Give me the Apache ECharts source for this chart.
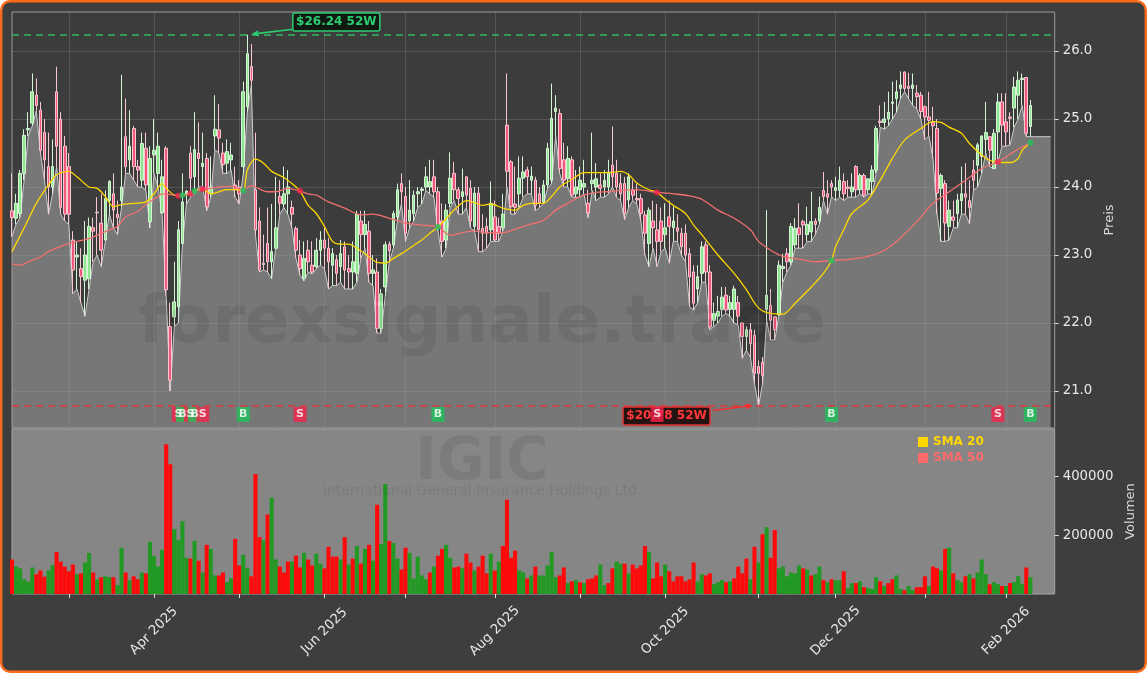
<!DOCTYPE html>
<html><head><meta charset="utf-8">
<script src="https://cdn.jsdelivr.net/npm/echarts@6/dist/echarts.min.js"></script>
<style>html,body{margin:0;padding:0;background:#ffffff;}#c{width:1147px;height:673px;}</style>
</head><body><div id="c"></div>
<script>
// ---------------- DATA ----------------
const holidays = ['2025-02-17','2025-04-18','2025-05-26','2025-06-19','2025-07-04','2025-09-01','2025-11-27','2025-12-25','2026-01-01','2026-01-19','2026-02-16'];
const startDate = '2025-02-10';
const slotCount = 258;

const opens = [23.65,23.54,23.61,24.2,24.84,24.94,25.35,25.13,24.8,24.3,
24.0,25.4,25.0,24.6,24.3,23.22,22.97,22.8,22.63,22.65,
23.4,23.63,23.47,23.22,23.8,23.9,23.6,23.8,24.74,24.4,
24.86,24.3,24.1,24.57,23.49,24.47,24.2,23.62,24.57,21.95,
22.09,22.24,23.17,23.9,24.5,24.15,24.5,24.3,24.42,23.9,
24.75,24.84,24.5,24.35,24.4,24.03,24.0,24.3,25.18,25.77,
23.96,23.5,22.88,23.17,22.9,23.1,23.86,23.75,23.9,23.7,
23.39,23.0,22.66,23.07,22.85,22.83,23.07,23.22,23.1,22.85,
22.93,22.83,23.12,22.8,22.75,22.73,23.5,23.3,23.35,22.73,
22.75,21.92,22.53,23.16,23.15,23.56,24.05,23.86,23.5,23.61,
23.9,23.95,24.0,24.0,24.15,23.93,23.5,23.22,23.76,24.2,
23.96,23.86,24.15,23.98,23.42,23.91,23.39,23.42,23.37,23.56,
23.42,23.4,24.91,24.37,23.75,23.9,24.13,24.25,24.1,24.1,
23.9,23.78,24.03,24.1,25.11,25.08,24.4,24.12,24.4,23.9,
23.96,24.0,23.76,24.05,24.0,24.03,24.0,24.0,24.32,24.2,
24.05,24.05,23.81,23.95,23.83,23.83,23.59,23.17,23.5,23.37,
23.5,23.3,23.56,23.4,23.4,23.32,23.32,23.02,22.75,22.5,
22.73,23.15,22.75,22.04,22.1,22.2,22.41,22.2,22.2,22.3,
22.0,21.8,21.9,21.82,21.36,21.42,22.2,22.26,22.09,22.12,
22.8,23.02,22.9,23.15,23.4,23.49,23.3,23.34,23.5,23.5,
23.95,23.9,24.05,23.95,23.95,24.08,24.0,23.93,24.3,23.96,
24.17,23.96,24.08,24.25,24.97,24.95,25.0,25.23,25.3,25.45,
25.69,25.48,25.45,25.38,25.35,25.18,25.03,24.95,24.86,23.98,
24.05,23.42,23.56,23.61,23.8,23.9,23.8,24.25,24.32,24.45,
24.7,24.74,24.27,24.81,25.25,24.96,25.03,25.16,25.35,25.58,
25.61,24.89];

const highs = [24.2,23.9,24.25,24.85,25.1,25.67,25.6,25.25,25.0,24.8,
24.7,25.77,25.1,24.75,24.5,23.35,23.2,23.1,23.5,23.55,
23.55,23.85,23.9,23.95,24.1,24.2,23.8,25.65,25.3,25.13,
24.9,24.4,24.8,24.8,24.6,25.0,24.8,24.4,24.6,22.3,
22.9,23.5,24.2,23.95,24.6,25.1,24.95,24.8,24.5,24.45,
25.35,25.22,24.65,24.7,24.65,24.3,24.1,25.55,26.24,26.1,
24.8,23.7,23.3,23.7,23.75,24.15,24.1,24.3,24.25,23.8,
23.42,23.22,23.2,23.22,23.2,23.25,23.35,23.4,23.25,23.1,
23.0,23.22,23.2,23.0,23.2,23.65,23.65,23.65,23.5,23.0,
22.95,22.5,23.2,23.2,23.65,24.05,24.2,24.0,24.1,23.95,
24.0,24.0,24.3,24.4,24.4,24.0,23.76,23.75,24.51,24.37,
24.0,24.27,24.15,24.1,24.0,24.0,23.6,23.55,24.08,23.8,
23.55,23.9,25.67,24.4,24.3,24.45,24.45,24.3,24.3,24.15,
24.0,24.1,24.65,25.52,25.35,25.15,24.65,24.6,24.45,24.25,
24.3,24.4,23.96,24.8,24.35,24.2,24.25,24.4,24.89,24.4,
24.2,24.15,24.2,24.1,24.05,23.9,23.65,23.7,23.8,23.75,
23.7,23.76,23.8,23.71,23.6,23.4,23.45,23.1,22.85,22.85,
23.2,23.2,22.85,22.3,22.4,22.53,22.53,22.4,22.55,22.4,
22.0,21.95,22.0,21.9,21.45,21.5,23.66,22.5,22.1,22.92,
23.02,23.1,23.47,23.54,23.76,23.52,23.71,23.93,23.54,23.86,
24.22,24.1,24.1,24.15,24.3,24.2,24.1,24.2,24.32,24.2,
24.2,24.12,24.32,24.9,25.2,25.25,25.4,25.55,25.57,25.7,
25.7,25.68,25.67,25.5,25.4,25.2,25.4,25.18,25.0,24.2,
24.1,23.8,23.8,23.9,24.3,24.35,24.1,24.4,24.65,24.76,
25.25,24.75,24.85,25.38,25.38,25.38,25.1,25.62,25.7,25.67,
25.61,25.28];

const lows = [23.27,23.45,23.55,24.1,24.75,24.9,25.12,24.5,24.1,23.6,
23.9,24.3,23.6,23.5,23.45,22.43,22.5,22.3,22.1,22.5,
22.9,23.0,22.83,23.2,23.6,23.4,23.3,23.7,24.2,24.2,
24.1,24.0,24.0,23.95,23.4,24.2,24.0,23.6,22.4,21.0,
21.95,22.0,23.15,23.75,23.85,23.9,24.0,24.0,23.65,23.85,
24.55,24.5,24.2,24.2,24.25,23.85,23.75,24.2,25.1,25.5,
23.3,22.75,22.78,22.75,22.65,23.1,23.6,23.7,23.6,23.4,
22.95,22.7,22.62,22.75,22.72,22.8,22.85,22.8,22.5,22.55,
22.55,22.6,22.5,22.5,22.5,22.6,22.95,23.1,22.6,22.55,
21.85,21.85,22.4,22.9,23.1,23.5,23.75,23.2,23.4,23.5,
23.7,23.75,23.95,23.9,23.85,23.35,22.97,23.1,23.7,23.8,
23.6,23.6,23.7,23.4,23.35,23.05,23.05,23.1,23.2,23.2,
23.2,23.35,24.0,23.6,23.6,23.7,23.85,23.9,23.9,23.65,
23.7,23.75,23.98,24.05,24.75,24.2,24.0,24.0,23.85,23.85,
23.85,23.9,23.55,23.95,23.8,23.85,23.85,23.9,24.0,23.85,
23.8,23.52,23.7,23.8,23.75,23.5,23.0,22.83,23.1,22.83,
23.05,23.1,22.88,23.2,23.2,23.0,22.9,22.24,22.19,22.3,
22.6,22.6,21.9,21.95,22.0,22.1,22.14,22.1,22.0,21.97,
21.48,21.6,21.5,21.11,20.78,21.11,22.04,21.75,21.75,22.1,
22.6,22.75,22.85,23.1,23.1,23.1,23.2,23.2,23.3,23.45,
23.8,23.6,23.86,23.8,23.85,23.8,23.85,23.85,23.85,23.9,
23.85,23.9,23.9,24.2,24.88,24.85,24.9,25.0,25.1,25.3,
25.4,25.3,25.2,25.15,25.0,24.7,24.75,24.42,23.61,23.2,
23.2,23.22,23.4,23.4,23.6,23.6,23.46,23.95,24.0,24.2,
24.5,24.3,24.27,24.37,24.6,24.6,24.62,24.88,25.0,25.2,
24.74,24.74];
// the grey low-price band continues flat past the last candle
const lowsTail = [24.74,24.74,24.74,24.74,24.74];

const closes = [23.55,23.76,24.2,24.76,24.86,25.4,25.2,24.54,24.4,24.0,
24.3,24.6,23.7,23.6,23.6,22.78,23.0,22.68,23.0,23.42,
23.35,23.62,23.07,23.83,24.08,23.66,23.55,24.0,24.3,24.6,
24.3,24.25,24.64,24.03,24.42,24.54,24.6,24.15,22.49,21.16,
22.31,23.37,23.78,23.94,24.13,24.55,24.42,24.35,23.71,24.0,
24.85,24.72,24.33,24.52,24.47,23.96,23.9,25.4,25.96,25.57,
23.37,22.78,22.86,22.9,23.05,23.4,23.76,23.9,24.0,23.6,
23.07,22.8,22.95,22.9,22.75,23.07,23.22,23.1,22.9,23.02,
22.73,23.02,22.78,22.75,22.9,23.6,23.3,23.45,22.73,22.78,
21.92,22.43,23.15,23.06,23.61,23.96,23.93,23.32,23.66,23.88,
23.93,23.97,24.15,24.08,23.93,23.42,23.2,23.66,24.13,23.96,
23.83,23.93,23.88,23.5,23.91,23.37,23.32,23.32,23.76,23.22,
23.32,23.6,24.23,23.71,23.7,24.13,24.22,24.15,24.16,23.73,
23.76,24.03,24.57,25.01,25.16,24.27,24.1,24.42,23.88,24.0,
24.1,24.05,23.62,24.1,24.12,23.98,24.1,24.22,24.15,24.0,
23.9,23.61,24.15,23.88,23.81,23.61,23.32,23.66,23.4,23.2,
23.2,23.4,23.42,23.5,23.35,23.12,23.0,22.68,22.29,22.68,
23.12,22.75,21.94,22.14,22.17,22.38,22.19,22.3,22.5,22.1,
21.8,21.9,21.7,21.26,21.26,21.23,22.41,22.04,21.9,22.85,
22.83,22.9,23.42,23.39,23.3,23.44,23.45,23.49,23.45,23.7,
23.86,23.85,24.0,23.99,24.1,23.9,23.98,24.0,23.96,24.17,
23.88,24.12,24.25,24.86,24.95,25.0,25.1,25.25,25.4,25.5,
25.45,25.45,25.5,25.33,25.11,25.03,24.98,24.9,23.91,24.17,
23.47,23.66,23.51,23.81,23.9,23.85,23.7,24.1,24.62,24.75,
24.8,24.54,24.79,25.25,24.91,24.81,25.01,25.47,25.57,25.6,
24.79,25.2];

const volumes = [117000,94000,87000,50000,42000,90000,67000,80000,59000,80000,
98000,143000,110000,93000,77000,100000,67000,70000,107000,139000,
73000,50000,57000,60000,57000,57000,30000,157000,73000,47000,
60000,50000,73000,70000,177000,130000,93000,150000,508000,440000,
220000,183000,247000,123000,120000,180000,113000,73000,167000,153000,
63000,63000,73000,40000,53000,187000,97000,133000,87000,60000,
407000,193000,183000,270000,327000,117000,93000,73000,110000,110000,
130000,90000,140000,117000,97000,137000,103000,87000,160000,127000,
127000,117000,193000,100000,120000,163000,103000,153000,167000,113000,
303000,170000,373000,180000,173000,120000,83000,157000,140000,53000,
127000,63000,50000,73000,93000,130000,153000,167000,123000,90000,
93000,87000,137000,107000,80000,93000,130000,70000,137000,80000,
110000,163000,320000,123000,147000,80000,73000,53000,63000,93000,
63000,63000,97000,143000,57000,63000,90000,37000,43000,47000,
40000,37000,50000,53000,63000,100000,30000,37000,87000,110000,
103000,103000,70000,100000,87000,97000,163000,143000,53000,107000,
60000,100000,77000,43000,60000,60000,43000,50000,107000,43000,
67000,63000,70000,33000,40000,47000,40000,43000,53000,93000,
70000,120000,50000,160000,107000,203000,227000,123000,217000,87000,
93000,60000,73000,70000,97000,87000,83000,63000,67000,93000,
47000,40000,50000,47000,47000,77000,20000,37000,37000,43000,
23000,20000,17000,57000,43000,27000,37000,50000,63000,17000,
13000,27000,13000,23000,23000,60000,27000,93000,87000,80000,
153000,157000,70000,47000,40000,60000,67000,53000,73000,117000,
67000,33000,40000,33000,27000,27000,37000,40000,60000,33000,
90000,57000];
// 1 = green (up) volume bar, 0 = red
const volUp = [0,1,1,1,1,1,0,0,0,1, 1,0,0,0,0,0,1,0,1,1, 0,1,0,1,1,0,1,1,0,1, 0,0,1,0,1,1,1,1,0,0,
1,1,1,1,0,1,0,1,0,1, 1,0,0,1,1,0,0,1,1,0, 0,0,1,0,1,1,0,0,0,1, 0,0,1,0,0,1,1,0,0,0,
0,1,0,1,0,1,0,1,0,1, 0,1,1,0,1,1,0,0,1,1, 1,1,1,0,1,0,0,1,1,0, 0,1,0,0,1,0,0,0,1,0,
1,0,0,0,0,1,1,0,1,0, 1,1,1,1,1,0,0,1,0,1, 0,1,0,0,0,1,1,0,0,1, 1,0,1,0,0,0,0,1,0,0,
0,1,0,0,0,0,0,0,0,1, 1,0,0,1,1,1,0,1,0,0, 0,0,1,0,1,0,1,0,0,1, 1,1,1,1,1,0,1,0,1,1,
0,1,0,1,1,0,1,1,0,1, 0,1,1,1,0,1,0,0,1,1, 0,1,1,0,0,0,1,0,0,1, 0,1,0,1,1,0,1,0,1,1,
1,0,1,1,0,1,0,1,1,1, 0,1];

// moving averages: [bar index, value]
const sma20 = [[0,23.05],[3,23.4],[6,23.76],[9,24.03],[11,24.18],[14,24.23],[16,24.15],[19,24.0],[21,23.98],[23,23.86],[25,23.71],[27,23.74],[30,23.76],[33,23.78],[35,23.9],[37,24.05],[38,23.98],[40,23.88],[41,23.87],[42,23.88],[44,23.9],[45,23.94],[47,23.97],[49,23.9],[51,23.93],[53,23.96],[55,23.96],[57,23.95],[58,24.25],[60,24.41],[62,24.35],[64,24.23],[67,24.14],[69,24.05],[71,23.94],[73,23.73],[75,23.61],[77,23.42],[79,23.2],[81,23.16],[83,23.16],[85,23.1],[87,23.02],[90,22.89],[92,22.88],[94,22.95],[96,23.02],[98,23.1],[101,23.22],[103,23.32],[105,23.41],[108,23.6],[110,23.72],[112,23.8],[114,23.77],[116,23.73],[118,23.75],[121,23.69],[124,23.66],[126,23.73],[128,23.76],[131,23.76],[133,23.86],[135,24.0],[138,24.11],[141,24.21],[144,24.21],[147,24.21],[150,24.23],[152,24.18],[154,24.06],[157,23.96],[159,23.92],[161,23.82],[163,23.73],[166,23.61],[168,23.44],[170,23.3],[174,23.0],[178,22.73],[181,22.49],[184,22.22],[187,22.14],[190,22.13],[193,22.29],[197,22.53],[200,22.73],[202,22.92],[203,23.12],[205,23.37],[207,23.61],[211,23.81],[214,24.1],[217,24.42],[220,24.69],[224,24.86],[227,24.96],[229,24.95],[231,24.88],[234,24.79],[236,24.64],[239,24.47],[241,24.39],[243,24.37],[244,24.36],[246,24.36],[248,24.42],[249,24.54],[251,24.65]];
const sma50 = [[0,22.87],[2,22.85],[4,22.9],[7,22.97],[9,23.05],[13,23.15],[16,23.2],[19,23.24],[22,23.32],[24,23.37],[26,23.42],[28,23.56],[31,23.64],[33,23.74],[36,23.86],[37,23.9],[40,23.88],[41,23.87],[42,23.88],[44,23.9],[45,23.93],[47,23.97],[49,23.98],[51,24.0],[54,24.01],[57,23.96],[59,24.02],[60,24.0],[63,23.93],[65,23.93],[68,23.98],[71,23.94],[73,23.9],[75,23.88],[78,23.78],[82,23.69],[86,23.59],[89,23.6],[93,23.54],[97,23.47],[101,23.44],[105,23.41],[108,23.29],[111,23.33],[114,23.35],[117,23.33],[121,23.33],[124,23.38],[127,23.44],[131,23.51],[134,23.66],[137,23.76],[140,23.86],[144,23.92],[147,23.93],[150,23.95],[154,23.96],[159,23.92],[163,23.9],[167,23.87],[170,23.82],[174,23.66],[178,23.54],[182,23.37],[184,23.2],[187,23.07],[190,22.98],[194,22.94],[198,22.9],[202,22.92],[207,22.94],[211,22.98],[215,23.07],[219,23.25],[223,23.49],[227,23.76],[231,23.93],[235,24.1],[239,24.27],[243,24.37],[247,24.52],[251,24.65]];

// crossover signals
const sigIdx = [41,42,44,45,47,57,71,105,159,202,243,251];
const sigType = ['S','B','S','B','S','B','S','B','S','B','S','B'];
const sigPrice = [23.87,23.88,23.90,23.94,23.97,23.95,23.94,23.41,23.92,22.92,24.37,24.65];

// 52-week extremes
const high52 = {idx: 58, value: 26.24, text: '$26.24 52W'};
const low52 = {idx: 184, value: 20.78, text: '$20.78 52W'};

const priceTicks = [21, 22, 23, 24, 25, 26];
const volumeTicks = [200000, 400000];
const monthNames = ['Jan','Feb','Mar','Apr','May','Jun','Jul','Aug','Sep','Oct','Nov','Dec'];

// ---------------- BUILD ----------------
const dates = [];
(function () {
  let t = Date.parse(startDate + 'T00:00:00Z');
  while (dates.length < slotCount) {
    const d = new Date(t);
    const wd = d.getUTCDay();
    const s = d.toISOString().slice(0, 10);
    if (wd !== 0 && wd !== 6 && holidays.indexOf(s) < 0) dates.push(s);
    t += 86400000;
  }
})();
const monthStart = dates.map((s, i) => i > 0 && s.slice(5, 7) !== dates[i - 1].slice(5, 7));
const labelled = dates.map((s, i) => monthStart[i] && (parseInt(s.slice(5, 7), 10) % 2 === 0));

const candles = opens.map((o, i) => [o, closes[i], lows[i], highs[i]]);
const areaLows = lows.concat(lowsTail);
const volData = volumes.map((v, i) => ({value: v, itemStyle: {color: volUp[i] ? '#229922' : '#ff0a0a'}}));
const dotData = sigIdx.map((ix, k) => [ix, sigPrice[k], sigType[k]]);

const GREEN = '#1ec25a', RED = '#f5234c';
const markerRow = 20.654;
const markerData = sigIdx.map((ix, k) => [ix, markerRow, sigType[k]]);

const FONT = 'DejaVu Sans';
const TXT = '#e8e8e8';
const gridLine = 'rgba(255,255,255,0.13)';

const option = {
  backgroundColor: 'transparent',
  animation: false,
  textStyle: {fontFamily: FONT},
  grid: [
    {left: 12, right: 92.3, top: 12, bottom: 245, show: true, backgroundColor: '#3c3c3c', borderColor: '#9c9c9c', borderWidth: 1},
    {left: 12, right: 92.3, top: 429, bottom: 79, show: true, backgroundColor: '#868686', borderColor: '#a6a6a6', borderWidth: 1}
  ],
  legend: {
    orient: 'vertical', left: 913, top: 431, itemWidth: 10, itemHeight: 10, itemGap: 4,
    icon: 'rect', selectedMode: false,
    textStyle: {fontFamily: FONT, fontWeight: 'bold', fontSize: 12},
    data: [{name: 'SMA 20', textStyle: {color: '#FFD700'}}, {name: 'SMA 50', textStyle: {color: '#FF6B6B'}}]
  },
  xAxis: [
    {type: 'category', gridIndex: 0, data: dates, boundaryGap: false,
     axisLine: {show: false}, axisTick: {show: false}, axisLabel: {show: false},
     splitLine: {show: true, interval: (i) => monthStart[i], lineStyle: {color: gridLine, width: 1}}},
    {type: 'category', gridIndex: 1, data: dates, boundaryGap: false,
     axisLine: {show: false},
     axisTick: {show: true, interval: (i) => monthStart[i], length: 4, lineStyle: {color: '#dddddd'}},
     axisLabel: {show: true, interval: (i) => labelled[i], rotate: 45, align: 'center', verticalAlign: 'middle', margin: 37,
       color: TXT, fontSize: 13.3, fontFamily: FONT,
       formatter: (v) => monthNames[parseInt(v.slice(5, 7), 10) - 1] + ' ' + v.slice(0, 4)},
     splitLine: {show: false}}
  ],
  yAxis: [
    {type: 'value', gridIndex: 0, position: 'right', min: 20.4559, max: 26.5735,
     axisLine: {show: false},
     axisTick: {show: true, length: 4, customValues: priceTicks, lineStyle: {color: '#dddddd'}},
     axisLabel: {show: true, customValues: priceTicks, formatter: (v) => v.toFixed(1), color: TXT, fontSize: 13.3, margin: 8, fontFamily: FONT},
     splitLine: {show: true, lineStyle: {color: gridLine, width: 1}},
     name: 'Preis', nameLocation: 'middle', nameGap: 43, nameRotate: 90,
     nameTextStyle: {color: '#d8d8d8', fontSize: 13, fontFamily: FONT}},
    {type: 'value', gridIndex: 1, position: 'right', min: 0, max: 560000,
     axisLine: {show: false},
     axisTick: {show: true, length: 4, customValues: volumeTicks, lineStyle: {color: '#dddddd'}},
     axisLabel: {show: true, customValues: volumeTicks, formatter: (v) => String(Math.round(v)), color: TXT, fontSize: 13.3, margin: 8, fontFamily: FONT},
     splitLine: {show: false},
     name: 'Volumen', nameLocation: 'middle', nameGap: 62, nameRotate: 90,
     nameTextStyle: {color: '#d8d8d8', fontSize: 13, fontFamily: FONT}}
  ],
  series: [
    {name: 'Low', type: 'line', xAxisIndex: 0, yAxisIndex: 0, data: areaLows, symbol: 'none', z: 1,
     lineStyle: {color: '#cdcdcd', width: 1}, areaStyle: {color: 'rgba(170,170,170,0.76)', origin: 'start'}},
    {name: 'Kurs', type: 'candlestick', xAxisIndex: 0, yAxisIndex: 0, data: candles, barWidth: 3.1, z: 3,
     itemStyle: {color: '#8de68d', color0: '#f2587a', borderColor: '#d8f4d8', borderColor0: '#f6c8d2', borderWidth: 1},
     markLine: {silent: true, symbol: ['none', 'none'], label: {show: false},
       data: [
         {yAxis: high52.value, lineStyle: {color: '#34b864', type: [7, 5], width: 1.5}},
         {yAxis: low52.value, lineStyle: {color: '#e03a3a', type: [7, 5], width: 1.5}}
       ]}},
    {name: 'SMA 20', type: 'line', xAxisIndex: 0, yAxisIndex: 0, data: sma20, symbol: 'none', smooth: 0.3, z: 4,
     color: '#FFD700', lineStyle: {color: '#FFD700', width: 1.3}},
    {name: 'SMA 50', type: 'line', xAxisIndex: 0, yAxisIndex: 0, data: sma50, symbol: 'none', smooth: 0.3, z: 4,
     color: '#FF6B6B', lineStyle: {color: '#F07070', width: 1.3}},
    {name: 'Signal', type: 'scatter', xAxisIndex: 0, yAxisIndex: 0, data: dotData, symbolSize: 6, z: 5,
     itemStyle: {color: (p) => p.data[2] === 'B' ? GREEN : RED}},
    {name: 'Marker', type: 'scatter', xAxisIndex: 0, yAxisIndex: 0, data: markerData, symbol: 'rect', symbolSize: [13, 15], z: 8,
     itemStyle: {color: (p) => p.data[2] === 'B' ? GREEN : RED},
     label: {show: true, position: 'inside', formatter: (p) => p.data[2], color: '#ffffff', fontWeight: 'bold', fontSize: 11, fontFamily: FONT}},
    {name: 'Volumen', type: 'bar', xAxisIndex: 1, yAxisIndex: 1, data: volData, barWidth: 4.1}
  ]
};

const chart = echarts.init(document.getElementById('c'), null, {renderer: 'canvas'});
chart.setOption(option);

function arrowEls(x1, y1, x2, y2, color, z) {
  const a = Math.atan2(y2 - y1, x2 - x1), L = 7, W = 3.2;
  const bx = x2 - L * Math.cos(a), by = y2 - L * Math.sin(a);
  return [
    {type: 'line', z: z, silent: true, shape: {x1: x1, y1: y1, x2: bx, y2: by}, style: {stroke: color, lineWidth: 1.6}},
    {type: 'polygon', z: z, silent: true, shape: {points: [[x2, y2], [bx - W * Math.sin(a), by + W * Math.cos(a)], [bx + W * Math.sin(a), by - W * Math.cos(a)]]}, style: {fill: color}}
  ];
}
function boxEls(cx, cy, w, h, txt, stroke, fill, color, z) {
  return [
    {type: 'rect', z: z, silent: true, shape: {x: cx - w / 2, y: cy - h / 2, width: w, height: h, r: 2}, style: {fill: fill, stroke: stroke, lineWidth: 1.5}},
    {type: 'text', z: z + 1, silent: true, x: cx, y: cy, style: {text: txt, fill: color, font: 'bold 12px "DejaVu Sans"', align: 'center', verticalAlign: 'middle'}}
  ];
}

const hp = chart.convertToPixel({xAxisIndex: 0, yAxisIndex: 0}, [high52.idx, high52.value]);
const lp = chart.convertToPixel({xAxisIndex: 0, yAxisIndex: 0}, [low52.idx, low52.value]);

const wm = 'rgba(0,0,0,0.08)';
const graphics = [
  {type: 'rect', z: -10, silent: true, shape: {x: 1.2, y: 1.2, width: 1144.6, height: 670.6, r: 9}, style: {fill: '#3e3e3e', stroke: '#ff6a1a', lineWidth: 2.4}},
  {type: 'text', z: 50, silent: true, x: 482, y: 325, style: {text: 'forexsignale.trade', fill: wm, font: 'bold 66px "DejaVu Sans"', align: 'center', verticalAlign: 'middle'}},
  {type: 'text', z: 50, silent: true, x: 482, y: 464, style: {text: 'IGIC', fill: wm, font: 'bold 58px "DejaVu Sans"', align: 'center', verticalAlign: 'middle'}},
  {type: 'text', z: 50, silent: true, x: 482, y: 491, style: {text: 'International General Insurance Holdings Ltd.', fill: wm, font: '14px "DejaVu Sans"', align: 'center', verticalAlign: 'middle'}}
]
.concat(arrowEls(hp[0] + 46, hp[1] - 5.5, hp[0] + 4, hp[1] - 0.5, '#2ecc71', 60))
.concat(boxEls(hp[0] + 89, hp[1] - 12.7, 87, 18, high52.text, '#2ecc71', 'rgba(12,22,14,0.92)', '#2ecc71', 60))
.concat(arrowEls(lp[0] - 45.5, lp[1] + 4.5, lp[0] - 5.5, lp[1] - 0.5, '#f03030', 6))
.concat(boxEls(lp[0] - 92, lp[1] + 10, 87, 18, low52.text, '#e53030', 'rgba(30,10,10,0.92)', '#ff3838', 6));

chart.setOption({graphic: graphics});
</script></body></html>
